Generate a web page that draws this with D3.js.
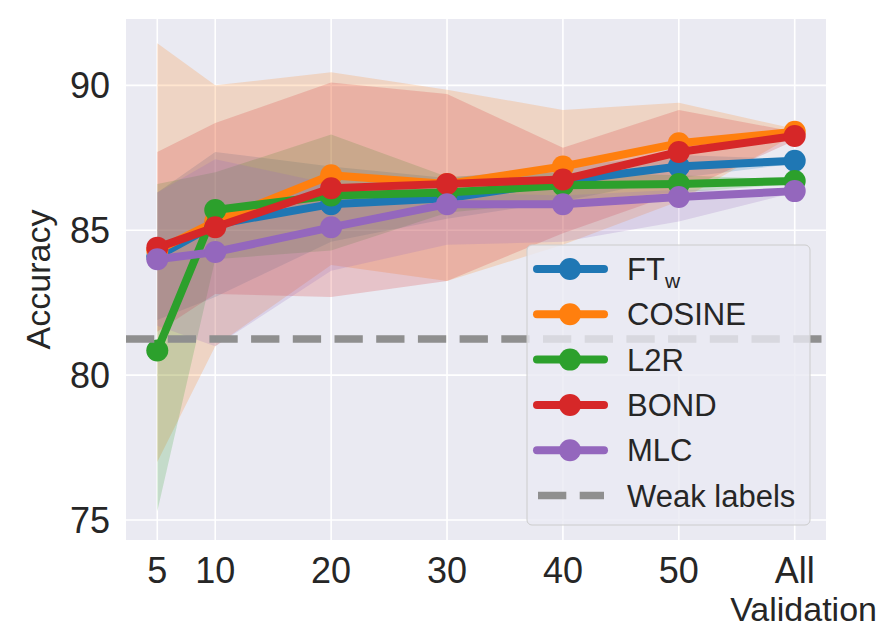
<!DOCTYPE html>
<html><head><meta charset="utf-8">
<script src="https://cdn.jsdelivr.net/npm/d3@7"></script>
<style>
body{margin:0;background:#fff}
text{font-family:"Liberation Sans",Arial,Helvetica,sans-serif;fill:#262626}
</style>
</head><body>
<svg id="chart" width="881" height="629"></svg>
<script>
// ---- data ----
const xValues = [5, 10, 20, 30, 40, 50, 60];
const xTickLabels = ["5", "10", "20", "30", "40", "50", "All"];
const yTicks = [75, 80, 85, 90];

const ftwMean = [84.1, 85.2, 85.9, 86.1, 86.7, 87.2, 87.4];
const ftwLow  = [81.9, 82.7, 84.6, 85.4, 86.0, 86.8, 87.3];
const ftwHigh = [86.3, 87.7, 87.2, 86.8, 87.2, 87.6, 87.45];

const cosineMean = [84.3, 85.3, 86.9, 86.6, 87.2, 88.0, 88.4];
const cosineLow  = [77.0, 81.0, 83.8, 83.25, 84.5, 86.0, 88.3];
const cosineHigh = [91.45, 90.0, 90.45, 89.85, 89.15, 89.4, 88.5];

const l2rMean = [80.85, 85.7, 86.2, 86.3, 86.55, 86.6, 86.7];
const l2rLow  = [75.3, 84.0, 84.3, 85.6, 86.0, 86.3, 86.6];
const l2rHigh = [86.6, 87.0, 88.3, 86.85, 87.0, 86.9, 86.75];

const bondMean = [84.4, 85.1, 86.45, 86.6, 86.75, 87.7, 88.25];
const bondLow  = [81.5, 82.8, 82.7, 83.25, 84.9, 86.3, 88.1];
const bondHigh = [87.7, 88.7, 90.1, 89.7, 87.85, 89.15, 88.4];

const mlcMean = [84.0, 84.25, 85.1, 85.9, 85.9, 86.15, 86.35];
const mlcLow  = [81.7, 81.0, 83.6, 84.5, 84.6, 85.3, 86.3];
const mlcHigh = [86.3, 87.45, 86.6, 86.3, 86.2, 86.4, 86.4];

const weakLabels = 81.25;

const seriesNames = ["FTw", "COSINE", "L2R", "BOND", "MLC"];
const seriesColors = ["#1f77b4", "#ff7f0e", "#2ca02c", "#d62728", "#9467bd"];

const series = [
  {name: seriesNames[0], mean: ftwMean, lo: ftwLow, hi: ftwHigh, color: seriesColors[0]},
  {name: seriesNames[1], mean: cosineMean, lo: cosineLow, hi: cosineHigh, color: seriesColors[1]},
  {name: seriesNames[2], mean: l2rMean, lo: l2rLow, hi: l2rHigh, color: seriesColors[2]},
  {name: seriesNames[3], mean: bondMean, lo: bondLow, hi: bondHigh, color: seriesColors[3]},
  {name: seriesNames[4], mean: mlcMean, lo: mlcLow, hi: mlcHigh, color: seriesColors[4]}
];

// ---- layout ----
const svg = d3.select("#chart");
const L = 126, R = 826, T = 19, B = 540;
const x = d3.scaleLinear().domain([2.3, 62.7]).range([L, R]);
const y = d3.scaleLinear().domain([74.31, 92.29]).range([B, T]);

svg.append("rect").attr("x", L).attr("y", T).attr("width", R - L).attr("height", B - T).attr("fill", "#eaeaf2");

const clip = svg.append("clipPath").attr("id", "clip");
clip.append("rect").attr("x", L).attr("y", T).attr("width", R - L).attr("height", B - T);

// grid
const grid = svg.append("g");
grid.selectAll("line.v").data(xValues).join("line")
  .attr("x1", d => x(d)).attr("x2", d => x(d)).attr("y1", T).attr("y2", B)
  .attr("stroke", "#fff").attr("stroke-width", 1.6);
grid.selectAll("line.h").data(yTicks).join("line")
  .attr("y1", d => y(d)).attr("y2", d => y(d)).attr("x1", L).attr("x2", R)
  .attr("stroke", "#fff").attr("stroke-width", 1.6);

const plot = svg.append("g").attr("clip-path", "url(#clip)");

// bands
const area = d3.area().x((d, i) => x(xValues[i])).y0(d => y(d[0])).y1(d => y(d[1]));
series.forEach(s => {
  const pts = s.lo.map((v, i) => [v, s.hi[i]]);
  plot.append("path").attr("d", area(pts)).attr("fill", s.color).attr("fill-opacity", 0.2);
});

// lines
const line = d3.line().x((d, i) => x(xValues[i])).y(d => y(d));
series.forEach(s => {
  const g = plot.append("g");
  g.append("path").attr("d", line(s.mean)).attr("fill", "none").attr("stroke", s.color)
    .attr("stroke-width", 8).attr("stroke-linejoin", "round").attr("stroke-linecap", "round");
  g.selectAll("circle").data(s.mean).join("circle")
    .attr("cx", (d, i) => x(xValues[i])).attr("cy", d => y(d)).attr("r", 11).attr("fill", s.color);
});

// weak labels dashed line
plot.append("line").attr("x1", L).attr("x2", R).attr("y1", y(weakLabels)).attr("y2", y(weakLabels))
  .attr("stroke", "#8f8f8f").attr("stroke-width", 7.5).attr("stroke-dasharray", "28.3,13.4");

// ticks
svg.append("g").selectAll("text").data(yTicks).join("text")
  .attr("x", 110).attr("y", d => y(d)).attr("dy", "0.36em").attr("text-anchor", "end")
  .attr("font-size", 36).text(d => d);
svg.append("g").selectAll("text").data(xValues).join("text")
  .attr("x", d => x(d)).attr("y", 583).attr("text-anchor", "middle")
  .attr("font-size", 36).text((d, i) => xTickLabels[i]);

// axis labels
svg.append("text").attr("x", 877).attr("y", 621).attr("text-anchor", "end").attr("font-size", 34).text("Validation");
svg.append("text").attr("transform", `translate(50,${(T + B) / 2}) rotate(-90)`).attr("text-anchor", "middle")
  .attr("font-size", 34).text("Accuracy");

// legend
const lg = svg.append("g");
lg.append("rect").attr("x", 527).attr("y", 245).attr("width", 283).attr("height", 280).attr("rx", 5)
  .attr("fill", "#eaeaf2").attr("fill-opacity", 0.8).attr("stroke", "#cccccc").attr("stroke-width", 1);
const rowY = d3.range(6).map(i => 269 + i * 45.3);
series.forEach((s, i) => {
  lg.append("line").attr("x1", 537).attr("x2", 604).attr("y1", rowY[i]).attr("y2", rowY[i])
    .attr("stroke", s.color).attr("stroke-width", 8).attr("stroke-linecap", "round");
  lg.append("circle").attr("cx", 570).attr("cy", rowY[i]).attr("r", 11).attr("fill", s.color);
  const t = lg.append("text").attr("x", 627).attr("y", rowY[i]).attr("dy", "0.36em").attr("font-size", 31);
  if (s.name === "FTw") {
    t.append("tspan").text("FT");
    t.append("tspan").attr("font-size", 21).attr("dy", "0.35em").text("w");
  } else {
    t.text(s.name);
  }
});
lg.append("line").attr("x1", 538).attr("x2", 604).attr("y1", rowY[5]).attr("y2", rowY[5])
  .attr("stroke", "#8f8f8f").attr("stroke-width", 7.5).attr("stroke-dasharray", "28.3,13.4");
lg.append("text").attr("x", 627).attr("y", rowY[5]).attr("dy", "0.36em").attr("font-size", 31).text("Weak labels");
</script>
</body></html>
